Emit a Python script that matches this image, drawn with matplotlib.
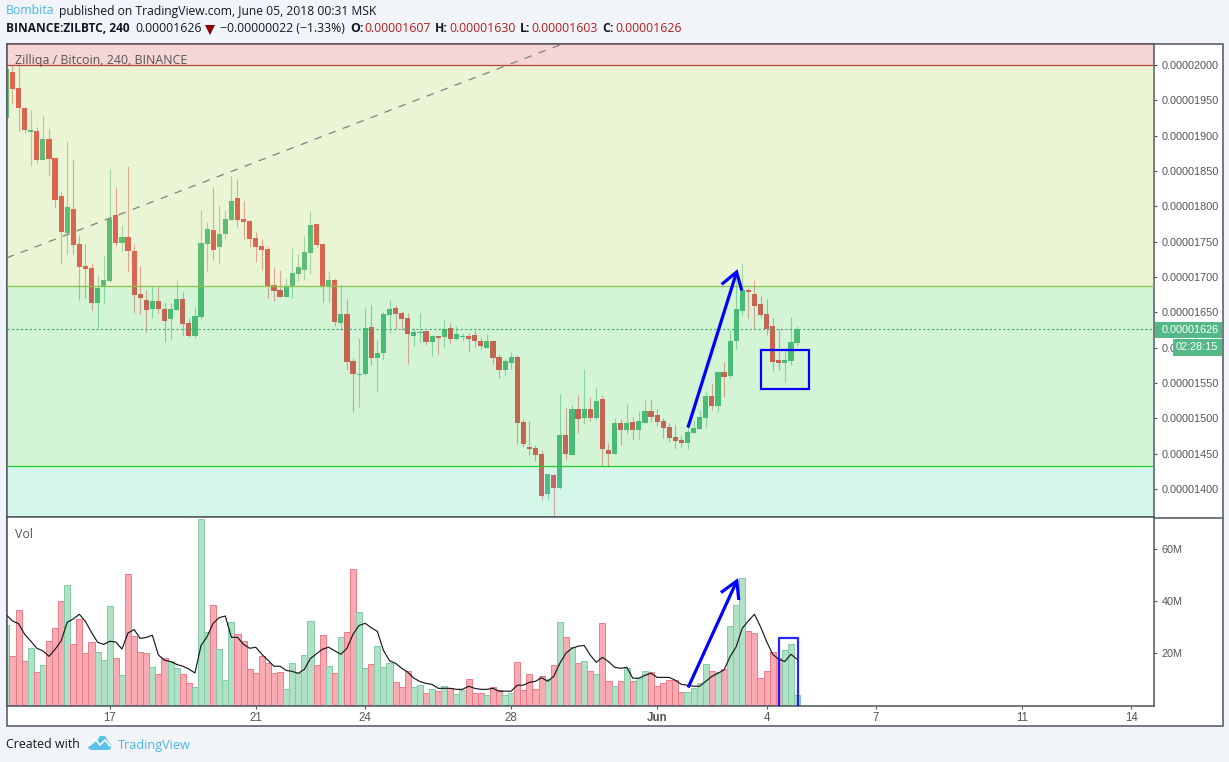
import matplotlib
matplotlib.use("Agg")
import matplotlib.pyplot as plt
from matplotlib.patches import Rectangle, Polygon
from matplotlib.transforms import Affine2D
from matplotlib.ticker import FuncFormatter

# Prices are in units of 1e-8 BTC
opens = [1925,1990,1967,1939,1905,1907,1866,1895,1868,1815,1762,1796,1747,1716,1713,1663,1686,1694,1788,1748,
         1757,1737,1676,1667,1655,1666,1655,1641,1653,1669,1635,1617,1643,1747,1767,1742,1761,1781,1812,1782,
         1779,1755,1744,1740,1689,1682,1672,1686,1704,1710,1734,1775,1747,1686,1696,1635,1648,1581,1561,1563,
         1629,1585,1592,1646,1656,1649,1642,1617,1621,1624,1608,1617,1615,1628,1612,1615,1617,1618,1609,1600,
         1609,1587,1568,1578,1587,1495,1459,1458,1450,1393,1420,1401,1476,1448,1513,1500,1513,1500,1527,1455,
         1450,1493,1483,1495,1483,1493,1510,1505,1496,1488,1474,1469,1465,1479,1485,1500,1532,1517,1566,1560,
         1609,1652,1682,1676,1662,1648,1631,1583,1578,1581,1607]
highs = [2000,2000,2000,1940,1936,1912,1929,1909,1869,1820,1892,1866,1759,1747,1720,1703,1730,1853,1827,1774,
         1857,1747,1716,1682,1687,1686,1663,1663,1696,1679,1642,1658,1795,1778,1827,1802,1795,1843,1839,1808,
         1781,1764,1754,1744,1714,1710,1699,1741,1733,1758,1793,1776,1748,1709,1699,1690,1669,1585,1614,1656,
         1660,1611,1650,1667,1660,1652,1649,1628,1649,1624,1618,1617,1639,1635,1631,1621,1621,1625,1615,1619,
         1611,1591,1584,1594,1590,1499,1496,1462,1455,1421,1421,1534,1515,1519,1533,1570,1530,1544,1533,1465,
         1500,1499,1520,1502,1510,1526,1527,1513,1500,1493,1491,1476,1488,1498,1512,1539,1550,1567,1580,1625,
         1707,1720,1684,1696,1673,1669,1642,1626,1600,1643,1630]
lows = [1925,1945,1907,1904,1857,1861,1866,1844,1798,1720,1733,1733,1667,1670,1653,1628,1663,1693,1744,1735,
        1707,1649,1648,1622,1642,1649,1608,1611,1653,1617,1615,1614,1641,1709,1724,1718,1754,1781,1771,1754,
        1742,1721,1710,1670,1666,1672,1672,1670,1694,1696,1704,1742,1665,1665,1631,1625,1568,1509,1516,1560,
        1575,1539,1583,1621,1626,1625,1577,1602,1607,1604,1588,1591,1600,1605,1611,1609,1594,1601,1598,1600,
        1577,1557,1561,1570,1464,1459,1448,1440,1384,1384,1362,1400,1441,1448,1479,1492,1496,1498,1433,1433,
        1450,1462,1478,1469,1471,1493,1495,1489,1472,1467,1457,1459,1457,1479,1485,1488,1512,1509,1530,1557,
        1598,1646,1642,1626,1642,1618,1567,1568,1551,1575,1603]
closes = [1994,1966,1939,1908,1908,1866,1895,1867,1809,1764,1799,1745,1714,1711,1663,1684,1696,1782,1748,1757,
          1737,1675,1670,1653,1666,1655,1638,1655,1669,1634,1617,1645,1748,1768,1738,1761,1782,1808,1781,1778,
          1754,1742,1738,1687,1680,1672,1687,1706,1714,1735,1774,1745,1686,1696,1636,1648,1580,1563,1563,1628,
          1585,1592,1648,1655,1648,1641,1619,1622,1622,1608,1617,1614,1626,1612,1619,1617,1612,1609,1602,1609,
          1585,1568,1581,1587,1493,1464,1457,1448,1390,1421,1401,1476,1450,1513,1499,1513,1500,1525,1457,1450,
          1493,1483,1493,1483,1496,1510,1502,1495,1486,1472,1468,1465,1481,1486,1502,1532,1517,1566,1558,1609,
          1655,1682,1679,1659,1646,1626,1580,1578,1583,1608,1626]
volumes = [30.8,18.7,36.4,16.8,21.8,12.6,15.3,24.5,29.5,39.9,46,23.3,32.9,19.9,24.1,20.3,17.2,37.9,17.9,11.4,
           50.3,26.4,20.3,19.9,14.5,11.8,17.9,16.8,14.1,11.8,8.3,6.8,71.4,27.9,38.3,21.4,9.5,31.8,27.2,24.5,
           13.7,12.2,18.7,16,12.2,12.6,6,16,12.2,19.1,32.2,15.3,26.8,14.9,12.2,26,27.9,52.2,35.6,14.1,
           15.6,22.6,14.5,16,8.7,6.8,12.9,6.8,7.6,4.5,6,5.3,7.2,6.4,4.1,5.6,9.9,4.5,4.5,3.7,
           6.8,5.6,3.7,4.5,16.4,5.6,11.8,6,11,9.9,15.3,31.8,26,22.2,16,16.8,12.9,11.8,31.4,9.1,
           7.2,9.1,14.1,9.1,10.3,12.9,12.6,7.2,8.3,9.5,9.5,4.9,4.9,6.4,8.3,15.6,12.9,12.6,13.7,30.3,
           38.3,48.7,28.3,27.6,10.3,12.9,20.3,17.9,21,23.3,3.7]
vol_ma = [34.6,32.3,31.3,27.2,24.6,21.8,20.8,18.7,21.4,24.6,31.8,33.1,34.9,32.1,27.9,24.1,23.3,24.5,24.2,21.5,
          27.7,29,25.6,26,26.8,19.2,17.2,16.7,15.6,14.9,13.8,12.3,22.8,26.3,31.4,33.6,34.2,26,26,23.3,
          21.8,22.2,19.5,17.2,14.9,14.9,13.3,12.9,12.2,13.7,17.9,19.7,21.5,22.2,20.8,19.5,21.8,27.2,30.6,31.4,
          29.7,28.3,21,17,16,14.1,12.6,10.3,9,8.3,7.9,6.4,6.4,6.4,6,6,7.2,6.4,6,6,
          6.4,5.3,5.3,5.3,7.6,7.6,8.7,9.1,10.5,9.1,11,16,19.9,21.8,22.6,22.9,19.2,16.4,18.3,16.7,
          14.5,14.1,14.5,10.3,10.3,11.4,12.2,10.6,10.6,10.6,9.5,7.9,7.6,7.2,7.2,9.1,11,12.2,13.5,18.6,
          22.4,29.5,32.3,34.9,30.1,24.4,19.5,17.6,16.7,19.5,17.6]
price_ticks = [2000,1950,1900,1850,1800,1750,1700,1650,1600,1550,1500,1450,1400]
vol_ticks = [20,40,60]
date_positions = [17,41,59,83,107,125,143,167,185]
date_labels = ["17","21","24","28","Jun","4","7","11","14"]
fib_levels = [2000,1687,1433]
last_price = 1626

W, H = 1229, 762
SANS = "Liberation Sans"
UI = "Open Sans"
BG = "#f1f4f8"
BORDER = "#50535e"
TICK = "#555555"
fig = plt.figure(figsize=(W/100, H/100), dpi=100, facecolor=BG)
px = Affine2D().scale(1/W, -1/H).translate(0, 1) + fig.transFigure

def axes_px(l, t, r, b):
    return fig.add_axes([l/W, 1-b/H, (r-l)/W, (b-t)/H])

def ftext(x, y, s, **kw):
    kw.setdefault("family", UI)
    kw.setdefault("fontsize", 8.85)
    kw.setdefault("va", "center")
    kw.setdefault("color", "#131722")
    return fig.text(x/W, 1-y/H, s, **kw)

fig.add_artist(Rectangle((6.5, 43.5), 1216, 682, transform=px, fc="white", ec=BORDER, lw=1.1, zorder=-5))
fig.add_artist(plt.Line2D([1154, 1222], [517.5, 517.5], transform=px, color=BORDER, lw=1.1, zorder=-4))

# ---------- main pane
ax = axes_px(7, 44, 1154, 517)
ax.set_xlim(0.1, 188.7)
ax.set_ylim(1360.4, 2029.7)
ax.set_facecolor("white")
GREEN, RED = "#53b987", "#eb4d5c"
idx = list(range(len(opens)))
up = [c >= o for o, c in zip(opens, closes)]
cols = [GREEN if u else RED for u in up]
ax.vlines(idx, lows, highs, colors=cols, linewidth=0.8, alpha=0.55, zorder=2)
ax.bar(idx, [max(abs(c-o), 1.2) for o, c in zip(opens, closes)],
       bottom=[min(o, c) for o, c in zip(opens, closes)], width=0.85, color=cols, linewidth=0, zorder=2.1)

zones = [(fib_levels[0], 2029.7, (210/255, 45/255, 45/255)),
         (fib_levels[1], fib_levels[0], (150/255, 205/255, 45/255)),
         (fib_levels[2], fib_levels[1], (40/255, 200/255, 50/255)),
         (1360.4, fib_levels[2], (40/255, 210/255, 145/255))]
for lo, hi, c in zones:
    ax.axhspan(lo, hi, color=c, alpha=0.2, linewidth=0, zorder=3)
ax.axhline(fib_levels[0], color="#b8433a", lw=0.9, zorder=4)
ax.axhline(fib_levels[1], color="#8bc34a", lw=0.9, zorder=4)
ax.axhline(fib_levels[2], color="#22cc22", lw=0.9, zorder=4)
ax.axhline(last_price, color="#3fa873", lw=0.8, dashes=(2, 2), zorder=4)
ax.plot([0.05, 91.4], [1727, 2029.7], color="#808080", lw=0.9, dashes=(6, 6), zorder=4)

BLUE = "#0000ff"
ax.plot([112.07, 120.07], [1487, 1707], color=BLUE, lw=2.3, zorder=6, solid_capstyle="butt")
ax.plot([117.8, 120.07, 120.85], [1691, 1707, 1683], color=BLUE, lw=2.3, zorder=6, solid_joinstyle="miter")
ax.add_patch(Rectangle((124.1, 1541), 7.95, 56, fc="none", ec=BLUE, lw=1.6, zorder=6))

ax.yaxis.tick_right()
ax.set_yticks(price_ticks)
ax.yaxis.set_major_formatter(FuncFormatter(lambda v, p: f"{v*1e-8:.8f}"))
ax.tick_params(axis="y", colors=TICK, length=2.3, width=0.8, pad=3.1, labelsize=7.8)
for t in ax.get_yticklabels():
    t.set_family(SANS)
ax.set_xticks([])
for s in ax.spines.values():
    s.set_color(BORDER); s.set_linewidth(1.1)

# ---------- volume pane
av = axes_px(7, 517, 1154, 706)
av.set_xlim(0.1, 188.7)
av.set_ylim(-0.4, 72.3)
fills = ["#b0e0c6" if u else "#f8abb2" for u in up]
edges = ["#80cca4" if u else "#ee7b88" for u in up]
av.bar(idx, volumes, width=1.0, color=fills, edgecolor=edges, linewidth=0.7, zorder=2)
av.plot(idx, vol_ma, color="#1a1a1a", lw=0.85, zorder=3)
av.plot([112.1, 120.1], [6.7, 47.7], color=BLUE, lw=2.3, zorder=5, solid_capstyle="butt")
av.plot([117.7, 120.1, 120.4], [43.6, 47.7, 41], color=BLUE, lw=2.3, zorder=5, solid_joinstyle="miter")
av.plot([127.0, 127.0, 130.1, 130.1], [0, 25.6, 25.6, 0], color=BLUE, lw=1.6, alpha=0.85, zorder=5)
av.yaxis.tick_right()
av.set_yticks(vol_ticks)
av.set_yticklabels([f"{v}M" for v in vol_ticks], family=SANS, fontsize=7.8, color=TICK)
av.tick_params(axis="y", length=2.3, width=0.8, color=TICK, pad=3.1)
av.set_xticks(date_positions)
av.set_xticklabels(date_labels, family=SANS, fontsize=8.3, color=TICK)
for t, s in zip(av.get_xticklabels(), date_labels):
    if s == "Jun":
        t.set_fontweight("bold")
av.tick_params(axis="x", length=2.3, width=0.8, color=TICK, pad=2.2)
for s in av.spines.values():
    s.set_color(BORDER); s.set_linewidth(1.1)

# ---------- price tags
TAG = "#53b987"
fig.add_artist(Rectangle((1154.5, 322), 67.5, 15.5, transform=px, fc=TAG, ec="none", zorder=5))
fig.add_artist(Rectangle((1173, 339), 49, 16.5, transform=px, fc=TAG, ec="none", zorder=5))
ftext(1162, 330, "0.00001626", family=SANS, fontsize=7.8, color="white", zorder=6)
ftext(1176, 347.5, "02:28:15", family=SANS, fontsize=7.8, color="white", zorder=6)

# ---------- legends
ftext(15, 60.5, "Zilliqa / Bitcoin, 240, BINANCE", fontsize=8.9, color="#555555", zorder=6)
ftext(15, 534.5, "Vol", fontsize=8.9, color="#555555", zorder=6)

# ---------- header
LBLUE = "#4db4e8"
DRED = "#b71c1c"
ftext(6, 11, "Bombita", color=LBLUE)
ftext(59, 11, "published on TradingView.com, June 05, 2018 00:31 MSK", fontsize=8.72)
ftext(6, 29, "BINANCE:ZILBTC, 240", fontweight="bold", fontsize=8.6)
ftext(135, 29, "0.00001626")
fig.add_artist(Polygon([(205, 25), (215, 25), (210, 35)], closed=True, transform=px, fc="#8b0000", ec="none"))
ftext(220, 29, "\u22120.00000022 (\u22121.33%)")
for x, s, bold, c in [(350, "O:", True, "#131722"), (364, "0.00001607", False, DRED),
                      (435, "H:", True, "#131722"), (449, "0.00001630", False, DRED),
                      (520, "L:", True, "#131722"), (531, "0.00001603", False, DRED),
                      (602, "C:", True, "#131722"), (615, "0.00001626", False, DRED)]:
    ftext(x, 29, s, color=c, fontweight="bold" if bold else "normal")

# ---------- footer
ftext(6, 745, "Created with", fontsize=8.95)
ftext(118, 745, "TradingView", color=LBLUE, fontsize=9.05)
LOGO = "#5cc0ea"
fig.add_artist(Polygon([(88, 748), (92, 742), (97, 741), (100, 736), (105, 736), (108, 741), (111, 745), (111, 749), (108, 750), (91, 750)],
                       closed=True, transform=px, fc=LOGO, ec="none"))
fig.add_artist(plt.Line2D([90, 96, 100, 105, 110], [745, 740, 745, 740, 746], transform=px, color="white", lw=1.2))

fig.savefig("out.png", dpi=100, facecolor=BG)
